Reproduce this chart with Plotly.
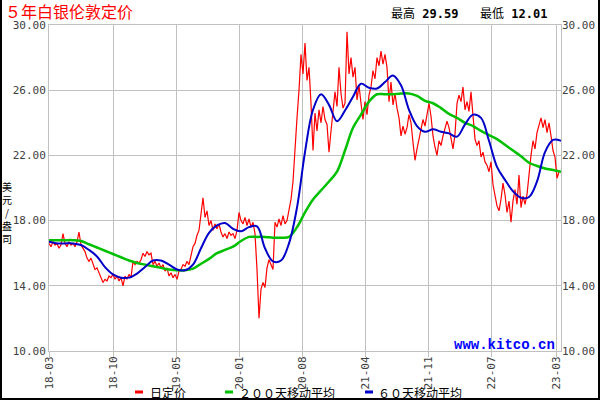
import plotly.graph_objects as go

# ---------------- data ----------------
price = [
    16.6, 16.4, 16.7, 16.5, 16.6, 16.3, 16.5, 17.2, 16.6, 16.4,
    16.7, 16.5, 16.6, 16.4, 16.7, 17.3, 16.5, 16.3, 16.1, 15.7,
    15.5, 15.7, 15.4, 15.0, 15.1, 14.8, 14.4, 14.2, 14.4, 14.3,
    14.6, 14.5, 14.7, 14.4, 14.6, 14.3, 14.5, 14.0, 14.6, 14.4,
    14.7, 14.5, 15.5, 15.3, 15.5, 15.4, 15.6, 16.0, 15.8, 16.1,
    15.9, 16.0, 15.3, 15.5, 15.2, 15.4, 15.1, 15.3, 14.9, 15.1,
    14.6, 14.8, 14.5, 14.7, 14.4, 14.9, 15.0, 15.3, 15.2, 15.5,
    15.3, 15.9, 16.4, 16.6, 17.1, 17.4, 18.4, 19.4, 18.2, 18.6,
    17.7, 18.0, 17.4, 17.8, 17.5, 17.8, 17.3, 17.0, 17.2, 16.9,
    17.3, 17.1, 17.2, 16.9, 17.4, 18.5, 18.0, 17.8, 18.2, 17.7,
    18.1, 17.6, 17.9, 17.2, 15.0, 12.01, 13.8, 14.2, 13.9, 15.1,
    15.6, 15.3, 15.0, 17.9, 17.6, 18.1, 17.7, 18.3, 17.8, 18.0,
    18.7, 19.3, 20.4, 22.6, 24.3, 26.0, 28.2, 27.0, 28.9, 26.6,
    27.4, 25.2, 22.3, 24.6, 23.5, 24.8, 24.0, 25.0, 24.2, 23.9,
    22.2, 23.5, 24.8, 25.9, 25.0, 27.4, 25.8, 24.9, 25.2, 29.59,
    27.0, 28.0, 26.8, 27.4, 25.4, 26.3, 25.2, 24.2, 25.3, 24.5,
    25.7, 26.2, 27.2, 26.7, 28.0, 27.5, 28.4, 27.6, 28.2, 27.4,
    25.3, 26.5, 25.1, 25.8, 24.9, 24.3, 23.2, 23.8, 23.3, 23.7,
    24.5, 24.0, 22.8, 21.7, 22.4, 23.0, 23.6, 24.2, 23.8, 24.5,
    25.2, 24.4, 23.2, 22.5, 22.0, 22.9, 22.6, 23.2, 23.6, 24.1,
    23.7, 22.9, 22.4, 23.3, 25.2, 25.7, 25.3, 26.2, 24.8, 25.3,
    24.7, 25.9, 24.2, 23.0, 22.6, 22.9, 21.9, 22.2, 21.6, 21.4,
    21.0, 21.6, 20.2, 19.5, 18.9, 18.6, 19.3, 20.3, 19.6, 18.5,
    19.2, 17.9, 19.2, 19.9, 19.0, 20.8, 18.8, 19.5, 19.0, 19.6,
    21.0, 22.0, 22.9, 22.4, 23.4, 23.9, 24.3, 23.7, 24.2, 23.4,
    24.0, 23.2, 22.3, 21.9, 20.6, 21.0,
]

ma200 = [
    16.8, 16.8, 16.8, 16.8, 16.75, 16.55, 16.35, 16.15, 15.95, 15.75,
    15.55, 15.4, 15.3, 15.2, 15.1, 15.0, 14.95, 14.95, 15.05, 15.35,
    15.65, 16.0, 16.2, 16.4, 16.75, 17.0, 17.0, 17.0, 16.95, 16.95,
    17.0, 17.6, 18.5, 19.3, 19.85, 20.4, 21.0, 22.3, 23.7, 24.5,
    25.3, 25.75, 25.75, 25.75, 25.8, 25.8, 25.65, 25.35, 25.2, 24.9,
    24.55, 24.3, 24.0, 23.8, 23.5, 23.25, 23.0, 22.65, 22.3, 21.95,
    21.55, 21.35, 21.2, 21.1, 21.0,
]

ma60 = [
    16.7, 16.6, 16.6, 16.6, 16.5, 16.2, 15.8, 15.15, 14.7, 14.5,
    14.5, 14.75, 15.15, 15.55, 15.55, 15.3, 15.0, 14.95, 15.3, 16.3,
    17.25, 17.7, 17.85, 17.5, 17.35, 17.6, 17.65, 16.3, 15.5, 15.55,
    16.6, 18.8, 22.2, 24.8, 25.75, 25.1, 24.1, 24.75, 25.6, 26.4,
    26.15, 26.1, 26.5, 26.9, 26.3, 24.8, 23.8, 23.45, 23.6, 23.45,
    23.35, 23.15, 23.9, 24.5, 24.3, 22.9, 21.3, 20.5, 19.8, 19.4,
    19.45, 20.4, 22.2, 22.95, 22.9,
]

tick_labels = ["18-03", "18-10", "19-05", "20-01", "20-08",
               "21-04", "21-11", "22-07", "23-03"]
tick_pos = [0, 32, 63.5, 95, 126.5, 158, 189.5, 221, 253.5]
y_ticks = [10, 14, 18, 22, 26, 30]

title_text = "５年白银伦敦定价"
high_label, high_value = "最高", "29.59"
low_label, low_value = "最低", "12.01"
unit_chars = ["美", "元", "/", "盎", "司"]
legend_names = ["日定价", "２００天移动平均", "６０天移动平均"]
watermark = "www.kitco.cn"

# ---------------- layout geometry ----------------
W, H = 600, 400
L, R, T, B = 49, 39, 25, 49
PW, PH = W - L - R, H - T - B

def px(xp):
    return (xp - L) / PW

def py(yp):
    return (H - B - yp) / PH

RED, GREEN, BLUE = "#ff0000", "#00c000", "#0000c8"
GRID = "#c0c0c0"
TICKC = "#404040"
MONO = "DejaVu Sans Mono"
CJK = "Noto Sans CJK SC"

x_price = list(range(len(price)))
ma_step = 4
x_ma = [i * ma_step for i in range(len(ma60))]

fig = go.Figure()
fig.add_trace(go.Scatter(x=x_price, y=price, mode="lines",
                         line=dict(color=RED, width=1.2), name=legend_names[0]))
fig.add_trace(go.Scatter(x=x_ma, y=ma200, mode="lines",
                         line=dict(color=GREEN, width=2.5, shape="spline"),
                         name=legend_names[1]))
fig.add_trace(go.Scatter(x=x_ma, y=ma60, mode="lines", yaxis="y2",
                         line=dict(color=BLUE, width=2, shape="spline"),
                         name=legend_names[2]))

axis_font = dict(family=MONO, size=11, color=TICKC)
fig.update_layout(
    width=W, height=H,
    margin=dict(l=L, r=R, t=T, b=B, autoexpand=False),
    paper_bgcolor="white", plot_bgcolor="white",
    showlegend=False,
    xaxis=dict(range=[0, 256], tickmode="array", tickvals=tick_pos,
               ticktext=tick_labels, tickangle=-90, showgrid=True,
               gridcolor=GRID, gridwidth=1, showline=True, linecolor=GRID,
               linewidth=1, mirror=True, ticks="outside", ticklen=5,
               tickcolor=GRID, tickfont=axis_font, zeroline=False,
               automargin=False, ticklabelstandoff=-5),
    yaxis=dict(range=[10, 30], tickmode="array", tickvals=y_ticks,
               tickformat=".2f", showgrid=True, gridcolor=GRID, gridwidth=1,
               showline=True, linecolor=GRID, linewidth=1, mirror=True,
               ticks="", tickfont=axis_font, zeroline=False, automargin=False),
    yaxis2=dict(range=[10, 30], overlaying="y", side="right", matches="y",
                tickmode="array", tickvals=y_ticks, tickformat=".2f",
                showgrid=False, ticks="", tickfont=axis_font,
                zeroline=False, showline=False, automargin=False),
)

ann = []
ann.append(dict(text=title_text, x=px(3), y=py(11), xanchor="left",
                yanchor="middle", font=dict(family=CJK, size=16, color=RED)))
ann.append(dict(text=f"{high_label} <b>{high_value}</b>", x=px(389), y=py(14),
                xanchor="left", yanchor="middle",
                font=dict(family=f"{MONO}, {CJK}", size=12, color="black")))
ann.append(dict(text=f"{low_label} <b>{low_value}</b>", x=px(478), y=py(14),
                xanchor="left", yanchor="middle",
                font=dict(family=f"{MONO}, {CJK}", size=12, color="black")))
ann.append(dict(text="<br>".join(unit_chars), x=px(7), y=py(212),
                xanchor="center", yanchor="middle",
                font=dict(family=CJK, size=10, color="black")))
leg_x = [(135, 148), (225, 237), (365, 376)]
for (dx, tx), name in zip(leg_x, legend_names):
    ann.append(dict(text=name, x=px(tx), y=py(392), xanchor="left",
                    yanchor="middle", font=dict(family=CJK, size=12, color="black")))
ann.append(dict(text=f"<b>{watermark}</b>", x=px(557), y=py(345),
                xanchor="right", yanchor="middle",
                font=dict(family="Liberation Mono", size=14, color="#0000ff")))
for a in ann:
    a.update(xref="paper", yref="paper", showarrow=False)
fig.update_layout(annotations=ann)

shapes = []
for (dx, tx), col in zip(leg_x, [RED, GREEN, BLUE]):
    shapes.append(dict(type="line", xref="paper", yref="paper",
                       x0=px(dx), x1=px(dx + 8), y0=py(392), y1=py(392),
                       line=dict(color=col, width=3)))
# outer black frame (left, right, bottom)
shapes.append(dict(type="line", xref="paper", yref="paper", x0=px(1), x1=px(1),
                   y0=py(0), y1=py(399), line=dict(color="black", width=2)))
shapes.append(dict(type="line", xref="paper", yref="paper", x0=px(599), x1=px(599),
                   y0=py(0), y1=py(399), line=dict(color="black", width=2)))
shapes.append(dict(type="line", xref="paper", yref="paper", x0=px(0), x1=px(600),
                   y0=py(399), y1=py(399), line=dict(color="black", width=2)))
fig.update_layout(shapes=shapes)

fig.write_html("out.html")
